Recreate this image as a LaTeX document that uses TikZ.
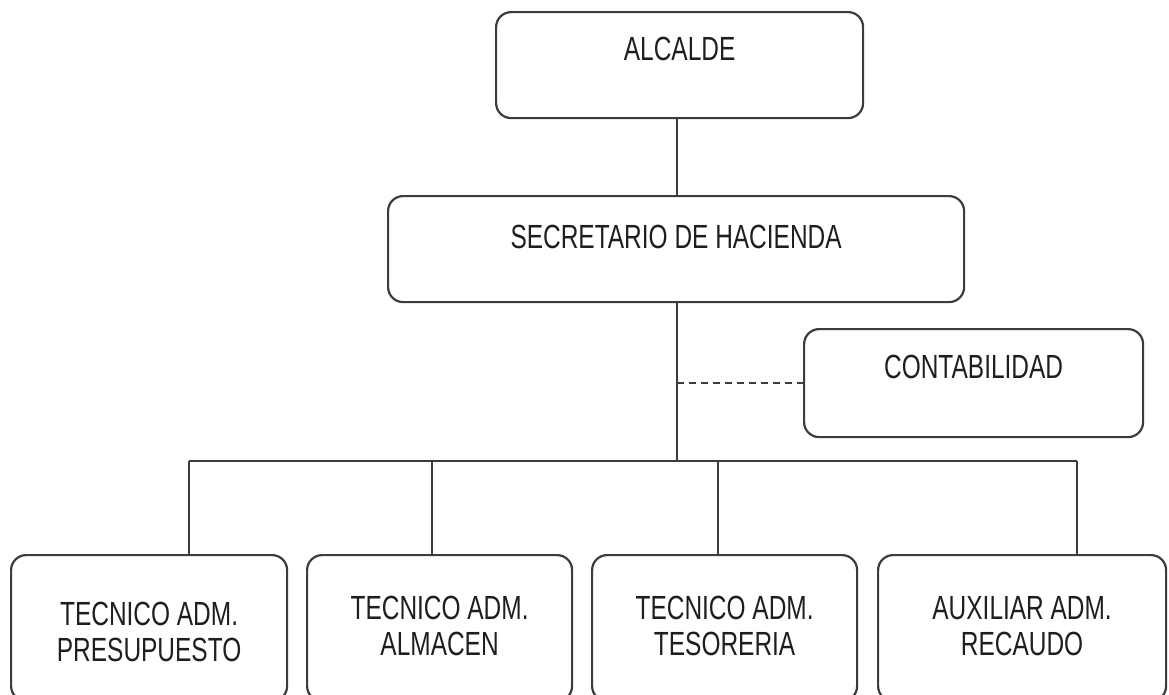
\documentclass[tikz,border=0pt]{standalone}
\usepackage{fontspec}
\setmainfont[FakeStretch=0.73]{Liberation Sans}
\definecolor{borde}{RGB}{60,60,60}
\definecolor{texto}{RGB}{30,30,30}

\begin{document}
\begin{tikzpicture}[x=1pt, y=-1pt,
    cargo/.style={draw=borde, line width=2.2pt, rounded corners=15pt,
      inner xsep=0pt, inner ysep=0pt, text=texto, align=center,
      font=\fontsize{33.5}{36}\selectfont, anchor=north west},
    linea/.style={draw=borde, line width=1.8pt},
    guion/.style={linea, dash pattern=on 7pt off 5pt}]
                \clip (0,0) rectangle (1169,694);
                \node[cargo, minimum width=367pt, text height=48pt, text depth=58pt](alcalde) at (495,11){ALCALDE};
                \node[cargo, minimum width=576pt, text height=52pt, text depth=54pt](secretario) at (387,195){SECRETARIO DE HACIENDA};
                \node[cargo, minimum width=339pt, text height=49pt, text depth=59pt](contabilidad) at (803,328){CONTABILIDAD};
                \node[cargo, minimum width=276pt, text height=106pt, text depth=40pt](presupuesto) at (10,554){TECNICO ADM.\\PRESUPUESTO};
                \node[cargo, minimum width=265pt, text height=100pt, text depth=46pt](almacen) at (306,554){TECNICO ADM.\\ALMACEN};
                \node[cargo, minimum width=265pt, text height=100pt, text depth=46pt](tesoreria) at (591,554){TECNICO ADM.\\TESORERIA};
                \node[cargo, minimum width=288pt, text height=100pt, text depth=46pt](recaudo) at (877,554){AUXILIAR ADM.\\RECAUDO};
                % lineas de mando
                \coordinate (bus) at (677,461);
                \coordinate (b1) at (189,461);
                \coordinate (b2) at (432,461);
                \coordinate (b3) at (718,461);
                \coordinate (b4) at (1077,461);
                \path[linea] (alcalde.south -| bus) -- (secretario.north -| bus);
                \path[linea] (secretario.south -| bus) -- (bus);
                \path[guion] (contabilidad.west -| bus) -- (contabilidad.west);
                \path[linea] (b1) -- (b4);
                \path[linea] (b1) -- (b1 |- presupuesto.north);
                \path[linea] (b2) -- (b2 |- almacen.north);
                \path[linea] (b3) -- (b3 |- tesoreria.north);
                \path[linea] (b4) -- (b4 |- recaudo.north);
                \end{tikzpicture}
\end{document}
